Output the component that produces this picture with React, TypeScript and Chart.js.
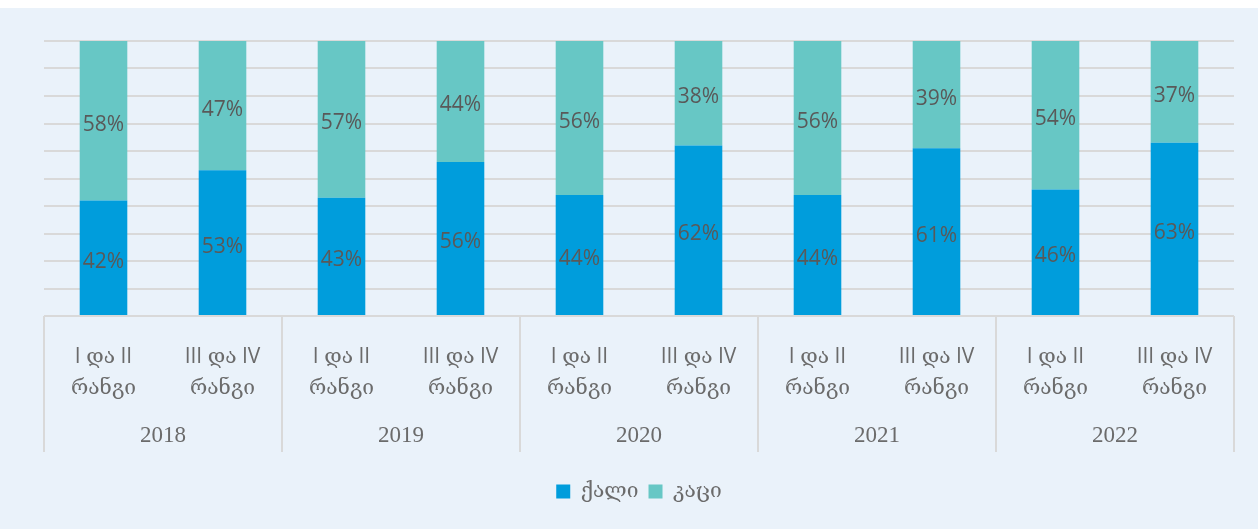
import React, { useEffect, useRef } from "react";
import { Chart, registerables } from "chart.js";

Chart.register(...registerables);

const years = ["2018", "2019", "2020", "2021", "2022"];
const ranks = [["I და II", "რანგი"], ["III და IV", "რანგი"]];
const categories = years.flatMap((y) => ranks.map((r) => r));
const women = [42, 53, 43, 56, 44, 62, 44, 61, 46, 63];
const men = [58, 47, 57, 44, 56, 38, 56, 39, 54, 37];
const seriesNames = ["ქალი", "კაცი"];

const TEXT = "#595959";
const AXIS_TEXT = "#6B6B6B";
const GRID = "#D9D9D9";
const MIXED = "'Open Sans', 'DejaVu Serif', sans-serif";

const labelPlugin = {
  id: "segLabels",
  afterDatasetsDraw(chart: any) {
    const ctx = chart.ctx;
    ctx.save();
    ctx.font = "21px 'Open Sans', sans-serif";
    ctx.fillStyle = TEXT;
    ctx.textAlign = "center";
    ctx.textBaseline = "middle";
    chart.data.datasets.forEach((ds: any, di: number) => {
      const meta = chart.getDatasetMeta(di);
      meta.data.forEach((el: any, i: number) => {
        const p = el.getProps(["x", "y", "base"], true);
        ctx.fillText(ds.data[i] + "%", p.x, (p.y + p.base) / 2 + 4);
      });
    });
    ctx.restore();
  },
};

const groupPlugin = {
  id: "groups",
  afterDraw(chart: any) {
    const ctx = chart.ctx;
    const x = chart.scales.x;
    const area = chart.chartArea;
    const bottom = area.bottom + 136;
    ctx.save();
    ctx.strokeStyle = GRID;
    ctx.lineWidth = 2;
    ctx.beginPath();
    ctx.moveTo(area.left, area.bottom);
    ctx.lineTo(area.right, area.bottom);
    ctx.stroke();
    const n = categories.length;
    const half = (x.getPixelForValue(1) - x.getPixelForValue(0)) / 2;
    for (let g = 0; g <= years.length; g++) {
      const idx = g * 2;
      const px = idx < n ? x.getPixelForValue(idx) - half : x.getPixelForValue(n - 1) + half;
      ctx.beginPath();
      ctx.moveTo(px, area.bottom);
      ctx.lineTo(px, bottom);
      ctx.stroke();
    }
    ctx.fillStyle = AXIS_TEXT;
    ctx.font = "23px 'Liberation Serif', serif";
    ctx.textAlign = "center";
    ctx.textBaseline = "middle";
    years.forEach((y, g) => {
      const cx = (x.getPixelForValue(g * 2) + x.getPixelForValue(g * 2 + 1)) / 2;
      ctx.fillText(y, cx, area.bottom + 120);
    });
    ctx.restore();
  },
};

export default function App() {
  const ref = useRef<HTMLCanvasElement>(null);
  useEffect(() => {
    document.body.style.margin = "0";
    const chart = new Chart(ref.current!, {
      type: "bar",
      data: {
        labels: categories,
        datasets: [
          { label: seriesNames[0], data: women, backgroundColor: "#009DDC", borderWidth: 0 },
          { label: seriesNames[1], data: men, backgroundColor: "#67C7C5", borderWidth: 0 },
        ],
      },
      options: {
        animation: false,
        responsive: false,
        maintainAspectRatio: false,
        datasets: { bar: { categoryPercentage: 1, barPercentage: 0.4 } },
        layout: { padding: { left: 44, right: 24, top: 33, bottom: 17 } },
        plugins: {
          legend: {
            position: "bottom",
            labels: {
              boxWidth: 14,
              boxHeight: 14,
              padding: 10,
              color: AXIS_TEXT,
              font: { size: 21, family: MIXED },
            },
          },
          tooltip: { enabled: false },
        },
        scales: {
          x: {
            stacked: true,
            grid: { display: false },
            border: { display: false },
            ticks: {
              color: AXIS_TEXT,
              padding: 18,
              maxRotation: 0,
              autoSkip: false,
              font: { size: 21, family: MIXED, lineHeight: 1.45 },
            },
            afterFit: (s: any) => {
              s.height = 155;
            },
          },
          y: {
            stacked: true,
            min: 0,
            max: 100,
            ticks: { display: false, stepSize: 10 },
            grid: { color: GRID, lineWidth: 2, drawTicks: false },
            border: { display: false },
            afterFit: (s: any) => {
              s.width = 0;
            },
          },
        },
      },
      plugins: [labelPlugin, groupPlugin],
    });
    return () => chart.destroy();
  }, []);
  return (
    <div style={{ width: 1258, height: 529, background: "#ffffff", position: "relative" }}>
      <div style={{ position: "absolute", left: 0, top: 8, width: 1258, height: 521, background: "#EAF2FA" }}>
        <canvas ref={ref} width={1258} height={521} style={{ display: "block" }} />
      </div>
    </div>
  );
}
